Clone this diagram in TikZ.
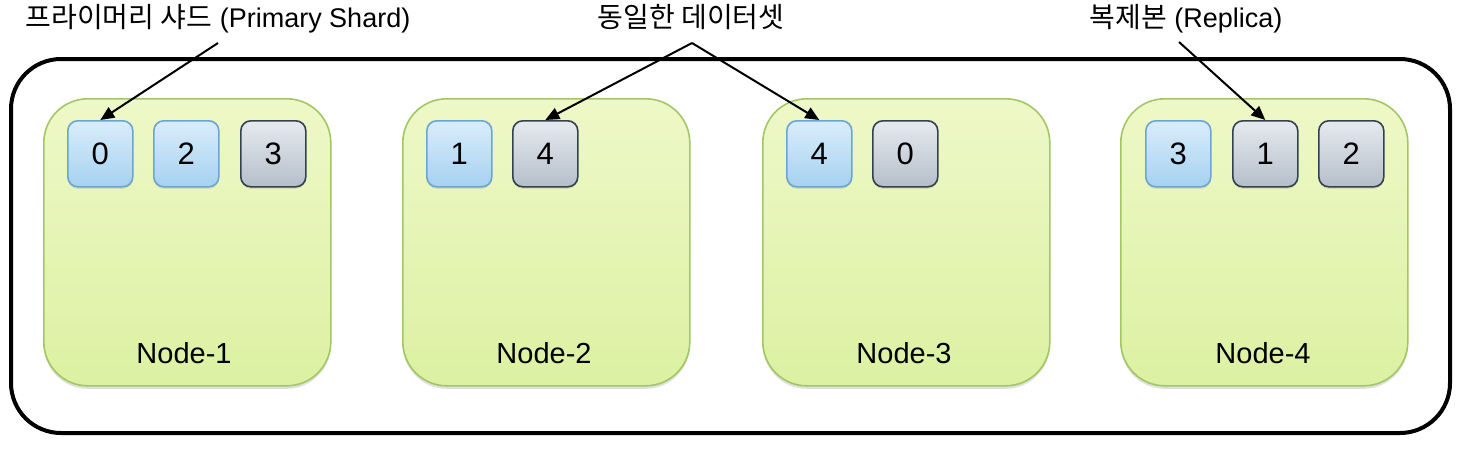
\documentclass[tikz,border=0pt]{standalone}
\usepackage{fontspec}
\setmainfont{Liberation Sans}
\newfontfamily\cjk{Noto Sans CJK KR}
\usetikzlibrary{arrows.meta,shadows}
\definecolor{pribord}{HTML}{6AA5D4}
\definecolor{pritop}{HTML}{D9EDFB}
\definecolor{pribot}{HTML}{A6D1F0}
\definecolor{repbord}{HTML}{34414E}
\definecolor{reptop}{HTML}{E6EAF0}
\definecolor{repbot}{HTML}{B5BEC9}
\definecolor{nodebord}{HTML}{A3C763}
\definecolor{nodetop}{HTML}{EEF8C8}
\definecolor{nodebot}{HTML}{DCF1A2}
\tikzset{
  x=1pt,y=-1pt,
  server/.style={draw=nodebord,line width=1.6pt,rounded corners=44pt,top color=nodetop,bottom color=nodebot,
    minimum width=287pt,minimum height=287pt,anchor=north west,
    drop shadow={shadow xshift=0pt,shadow yshift=-3pt,opacity=0.25}},
  shardbase/.style={rounded corners=10pt,line width=1.6pt,minimum width=65pt,minimum height=66pt,anchor=north west,
    font=\fontsize{31}{31}\selectfont,
    drop shadow={shadow xshift=0pt,shadow yshift=-2pt,opacity=0.2}},
  prim/.style={shardbase,draw=pribord,top color=pritop,bottom color=pribot},
  repl/.style={shardbase,draw=repbord,top color=reptop,bottom color=repbot},
  nodelabel/.style={font=\fontsize{29}{29}\selectfont},
  toplabel/.style={font=\fontsize{27}{27}\selectfont},
  kor/.style={font=\cjk\fontsize{28}{28}\selectfont},
  arr/.style={-{Triangle[length=14pt,width=12pt]},line width=2pt,black}
}
\begin{document}
\begin{tikzpicture}
\useasboundingbox (0,0) rectangle (1462,448);
\fill[white] (0,0) rectangle (1462,448);
% outer cluster
\draw[line width=4pt,rounded corners=50pt] (11,59) rectangle (1450,433);
% servers
\node[server] (n1) at (43,98) {};
\node[server] (n2) at (402,98) {};
\node[server] (n3) at (762,98) {};
\node[server] (n4) at (1120,98) {};
\node[nodelabel] (l1) at (184,353) {Node-1};
\node[nodelabel] (l2) at (544,353) {Node-2};
\node[nodelabel] (l3) at (904,353) {Node-3};
\node[nodelabel] (l4) at (1263,353) {Node-4};
% shards
\node[prim] (s10) at (67,120) {0};
\node[prim] (s12) at (153,120) {2};
\node[repl] (s13) at (240,120) {3};
\node[prim] (s21) at (426,120) {1};
\node[repl] (s24) at (512,120) {4};
\node[prim] (s34) at (786,120) {4};
\node[repl] (s30) at (872,120) {0};
\node[prim] (s43) at (1145,120) {3};
\node[repl] (s41) at (1232,120) {1};
\node[repl] (s42) at (1318,120) {2};
% labels
\node[toplabel] (tp) at (218,19) {{\cjk\fontsize{28}{28}\selectfont 프라이머리 샤드} (Primary Shard)};
\node[kor] (td) at (691,17) {동일한 데이터셋};
\node[toplabel] (tr) at (1186,19) {{\cjk\fontsize{28}{28}\selectfont 복제본} (Replica)};
\coordinate (ap) at (218,43);
\coordinate (ad) at (692,43);
\coordinate (ar) at (1179,42);
\draw[arr] (ap) -- (s10.north);
\draw[arr] (ad) -- (s24.north);
\draw[arr] (ad) -- (s34.north);
\draw[arr] (ar) -- (s41.north);
\end{tikzpicture}
\end{document}
